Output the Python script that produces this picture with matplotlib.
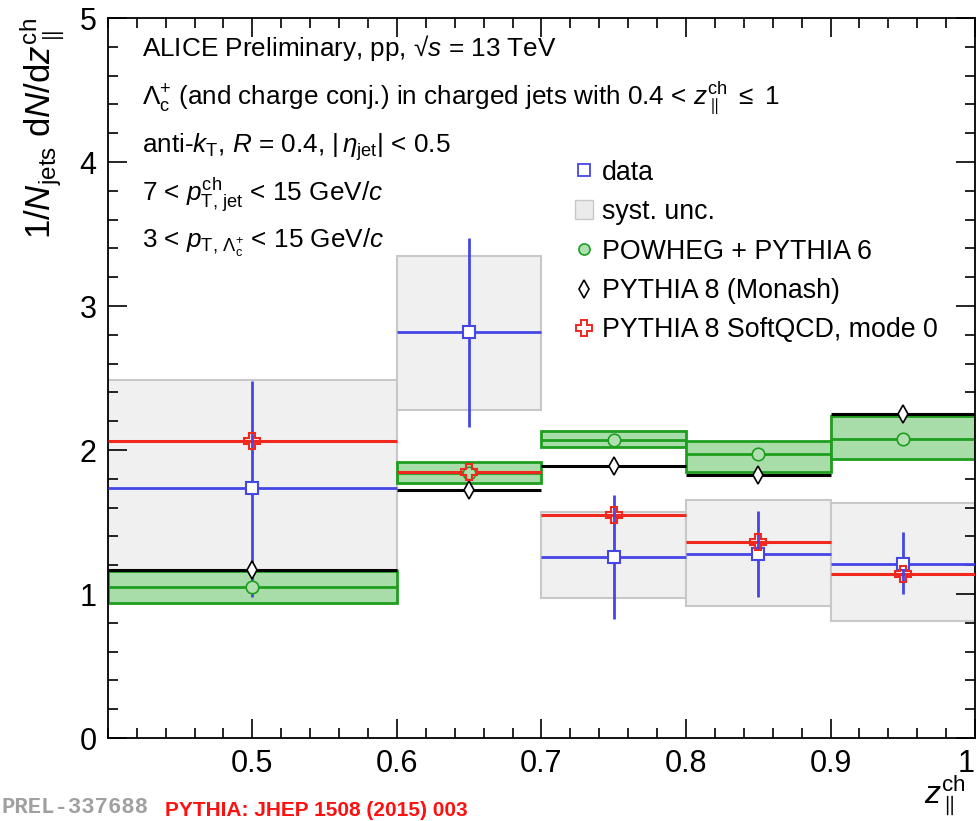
import matplotlib
matplotlib.use('Agg')
import matplotlib.pyplot as plt
from matplotlib.lines import Line2D
from matplotlib.patches import Patch
from matplotlib.ticker import MultipleLocator
import numpy as np

plt.rcParams['font.family'] = ['Liberation Sans', 'DejaVu Sans']
plt.rcParams['mathtext.fontset'] = 'custom'
plt.rcParams['mathtext.rm'] = 'Liberation Sans'
plt.rcParams['mathtext.it'] = 'Liberation Sans:italic'
plt.rcParams['mathtext.bf'] = 'Liberation Sans:bold'

# bins in z_||^ch
bin_lo = [0.4, 0.6, 0.7, 0.8, 0.9]
bin_hi = [0.6, 0.7, 0.8, 0.9, 1.0]
centers = [0.5, 0.65, 0.75, 0.85, 0.95]

# data with stat / syst
data_y = [1.74, 2.82, 1.26, 1.28, 1.21]
stat_lo = [0.76, 0.66, 0.43, 0.30, 0.21]
stat_hi = [0.74, 0.65, 0.43, 0.30, 0.22]
syst_lo = [0.76, 0.54, 0.29, 0.36, 0.40]
syst_hi = [0.75, 0.53, 0.31, 0.37, 0.42]

# models
powheg = [1.05, 1.84, 2.07, 1.97, 2.08]
powheg_lo = [0.94, 1.77, 2.02, 1.85, 1.94]
powheg_hi = [1.16, 1.92, 2.13, 2.06, 2.24]
monash = [1.17, 1.72, 1.89, 1.83, 2.25]
softqcd = [2.06, 1.85, 1.55, 1.36, 1.14]

blue = '#4646e6'
red = '#f0281e'
green = '#1e9e1e'
lgreen = '#a8dca8'

fig = plt.figure(figsize=(9.8, 8.21), dpi=100)
ax = fig.add_axes([0.110, 0.101, 0.885, 0.877])

widths = np.array(bin_hi) - np.array(bin_lo)
d = np.array(data_y)

# syst boxes
ax.bar(centers, np.array(syst_lo) + np.array(syst_hi), bottom=d - np.array(syst_lo),
       width=widths, facecolor='#f0f0f0', edgecolor='#c8c8c8', linewidth=1.5, zorder=1)

# POWHEG band
ax.bar(centers, np.array(powheg_hi) - np.array(powheg_lo), bottom=powheg_lo,
       width=widths, facecolor=lgreen, edgecolor=green, linewidth=2, zorder=2)
ax.hlines(powheg, bin_lo, bin_hi, color=green, lw=2, zorder=2.5)
ax.plot(centers, powheg, 'o', ms=9, mfc='#b0e0b0', mec=green, mew=1.2, zorder=6)

# PYTHIA 8 Monash
ax.hlines(monash, bin_lo, bin_hi, color='black', lw=2.2, zorder=3)
ax.plot(centers, monash, 'd', ms=9, mfc='white', mec='black', mew=1.2, zorder=6)

# PYTHIA 8 SoftQCD
ax.hlines(softqcd, bin_lo, bin_hi, color=red, lw=2.2, zorder=4)

# data
ax.errorbar(centers, data_y, xerr=widths / 2, yerr=[stat_lo, stat_hi], fmt='none',
            ecolor=blue, elinewidth=2, capsize=0, zorder=5)
ax.plot(centers, data_y, 's', ms=9, mfc='white', mec=blue, mew=1.5, zorder=7)
ax.plot(centers, softqcd, 'P', ms=12, mfc='none', mec=red, mew=1.5, zorder=7)

ax.set_xlim(0.4, 1.0)
ax.set_ylim(0, 5)
ax.xaxis.set_major_locator(MultipleLocator(0.1))
ax.xaxis.set_minor_locator(MultipleLocator(0.02))
ax.yaxis.set_major_locator(MultipleLocator(1))
ax.yaxis.set_minor_locator(MultipleLocator(0.2))
ax.tick_params(which='both', direction='in', top=True, right=True, width=1.2, labelsize=22, pad=8)
ax.tick_params(which='major', length=14)
ax.tick_params(which='minor', length=7)
ax.set_xticks([0.5, 0.6, 0.7, 0.8, 0.9, 1.0])
ax.set_xticklabels(['0.5', '0.6', '0.7', '0.8', '0.9', '1'])
ax.get_xticklabels()[-1].set_ha('right')
ax.set_yticks([0, 1, 2, 3, 4, 5])
ax.set_yticklabels(['0', '1', '2', '3', '4', '5'])
for s in ax.spines.values():
    s.set_linewidth(1.3)

ax.set_ylabel(r'$1/N_{\mathrm{jets}}\ \mathrm{d}N/\mathrm{d}z_{\parallel}^{\mathrm{ch}}$',
              fontsize=25, loc='top', labelpad=10)
fig.text(0.985, 0.032, r'$z_{\parallel}^{\mathrm{ch}}$', fontsize=23, ha='right', va='center')

# annotation text
tx = 0.040
fs = 18.8
ax.text(tx, 0.958, r'ALICE Preliminary, pp, √$s$ = 13 TeV', transform=ax.transAxes,
        fontsize=fs, va='center')
ax.text(tx, 0.890, r'$\Lambda_{\mathrm{c}}^{+}$ (and charge conj.) in charged jets with 0.4 < $z_{\parallel}^{\mathrm{ch}}$ $\leq$ 1',
        transform=ax.transAxes, fontsize=fs, va='center')
ax.text(tx, 0.821, r'anti-$k_{\mathrm{T}}$, $R$ = 0.4, $|\,\eta_{\mathrm{jet}}|$ < 0.5', transform=ax.transAxes,
        fontsize=fs, va='center')
ax.text(tx, 0.754, r'7 < $p_{\mathrm{T,\,jet}}^{\mathrm{ch}}$ < 15 GeV/$c$', transform=ax.transAxes,
        fontsize=fs, va='center')
ax.text(tx, 0.688, r'3 < $p_{\mathrm{T,}\,\Lambda_{\mathrm{c}}^{+}}$ < 15 GeV/$c$', transform=ax.transAxes,
        fontsize=fs, va='center')

handles = [
    Line2D([], [], ls='none', marker='s', ms=8, mfc='white', mec=blue, mew=1.3),
    Patch(facecolor='#ebebeb', edgecolor='#c8c8c8'),
    Line2D([], [], ls='none', marker='o', ms=8, mfc='#b0e0b0', mec=green, mew=1.2),
    Line2D([], [], ls='none', marker='d', ms=9, mfc='white', mec='black', mew=1.2),
    Line2D([], [], ls='none', marker='P', ms=11, mfc='none', mec=red, mew=1.4),
]
labels = ['data', 'syst. unc.', 'POWHEG + PYTHIA 6', 'PYTHIA 8 (Monash)', 'PYTHIA 8 SoftQCD, mode 0']
ax.legend(handles, labels, loc='upper left', bbox_to_anchor=(0.526, 0.818), frameon=False,
          fontsize=19.3, handlelength=0.7, handletextpad=0.3, labelspacing=0.5, borderaxespad=0)

fig.text(0.002, 0.016, 'PREL-337688', fontsize=16, color='#a0a0a0', family='Liberation Mono',
         fontweight='bold', va='center')
fig.text(0.168, 0.001, 'PYTHIA: JHEP 1508 (2015) 003', fontsize=15, color='#ff1010',
         va='bottom', fontweight='bold')

fig.savefig('out.png', dpi=100)
